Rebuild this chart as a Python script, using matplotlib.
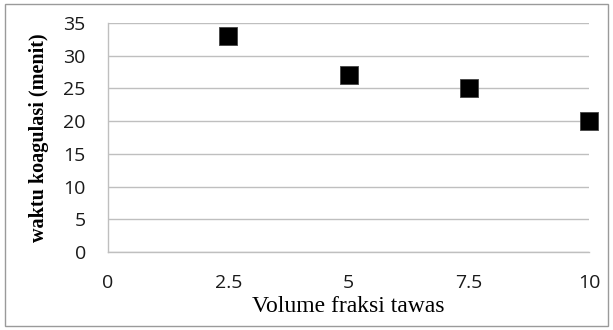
import matplotlib.pyplot as plt
from matplotlib.patches import Rectangle

# volume fraksi tawas vs waktu koagulasi
volume = [2.5, 5, 7.5, 10]
waktu = [33, 27, 25, 20]
x_ticks = [0, 2.5, 5, 7.5, 10]
y_ticks = [0, 5, 10, 15, 20, 25, 30, 35]

W, H = 613, 330
fig = plt.figure(figsize=(W / 100, H / 100), dpi=100)
ax = fig.add_axes([108 / W, 1 - 252 / H, (589 - 108) / W, (252 - 23) / H])

grid_col = "#bfbfbf"
ax.scatter(volume, waktu, marker="s", s=150, color="black",
           edgecolors="#444444", linewidths=0.6, zorder=3, clip_on=False)

ax.set_xlim(0, 10)
ax.set_ylim(0, 35)
ax.set_xticks(x_ticks)
ax.set_xticklabels(["0", "2.5", "5", "7.5", "10"])
ax.set_yticks(y_ticks)
ax.yaxis.grid(True, color=grid_col, linewidth=1)
ax.set_axisbelow(True)
ax.tick_params(length=0, labelsize=14, labelcolor="#1a1a1a")
ax.tick_params(axis="x", pad=16)
ax.tick_params(axis="y", pad=16)
for lbl in ax.get_xticklabels() + ax.get_yticklabels():
    lbl.set_family("Open Sans")

for side in ("top", "right"):
    ax.spines[side].set_visible(False)
for side in ("left", "bottom"):
    ax.spines[side].set_color(grid_col)
    ax.spines[side].set_linewidth(1)

ax.set_xlabel("Volume fraksi tawas", family="Liberation Serif",
              fontsize=17, labelpad=3)
ax.set_ylabel("waktu koagulasi (menit)", family="Liberation Serif",
              fontsize=14.5, fontweight="bold", labelpad=10)

# frame round the whole chart
fig.patches.append(Rectangle((5 / W, 4 / H), (608 - 5) / W, (326 - 4) / H,
                             transform=fig.transFigure, fill=False,
                             edgecolor="#9a9a9a", linewidth=1))

fig.savefig("out.png", dpi=100)
